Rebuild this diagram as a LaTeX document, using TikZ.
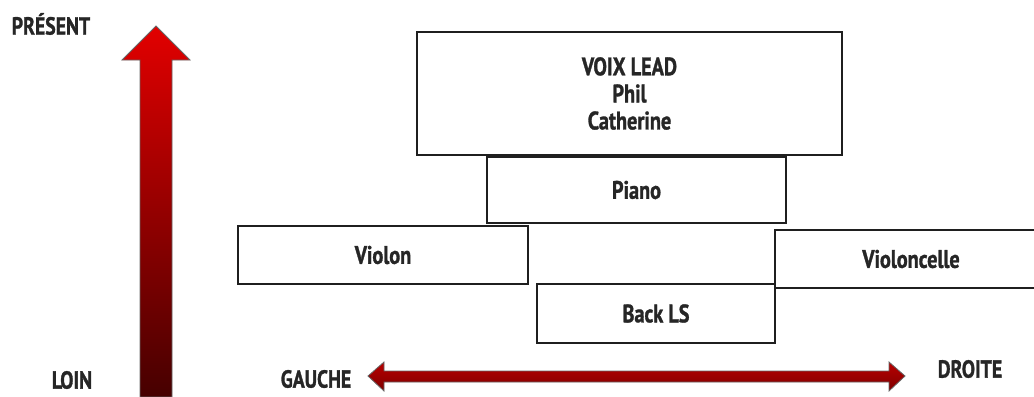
\documentclass[tikz,border=0pt]{standalone}
\usepackage{fontspec}
\setmainfont{PT Sans}[FakeStretch=0.8, BoldFeatures={FakeBold=1.2}]
\begin{document}
\begin{tikzpicture}[x=0.75pt,y=-0.75pt,
  box/.style={draw=black!88, line width=1.1pt, fill=white, inner sep=0pt, align=center,
    font=\bfseries\fontsize{19}{20.3}\selectfont, text=black!85},
  lbl/.style={font=\bfseries\fontsize{18.5}{20}\selectfont, text=black!85, inner sep=0pt},
  arr/.style={draw=black!60, line width=0.6pt}]
\useasboundingbox (0,0) rectangle (1034,396);
\begin{scope}
\clip (0,0) rectangle (1034,396);
% vertical arrow
\shade[arr, top color={rgb,255:red,226;green,0;blue,0}, bottom color={rgb,255:red,70;green,0;blue,0}]
  (140,397) -- (140,60) -- (122,60) -- (156,26) -- (190,60) -- (172,60) -- (172,397) -- cycle;
% horizontal double arrow
\shade[arr, top color={rgb,255:red,185;green,0;blue,0}, bottom color={rgb,255:red,125;green,0;blue,0}]
  (368,376) -- (384,362) -- (384,371) -- (889,371) -- (889,362) -- (905,376) -- (889,391) -- (889,382) -- (384,382) -- (384,391) -- cycle;
% boxes
\node[box, minimum width=318.75pt, minimum height=92.25pt] (lead) at (629.5,93.5) {VOIX LEAD\\Phil\\Catherine};
\node[box, minimum width=224.25pt, minimum height=49.5pt] (piano) at (636.5,190) {Piano};
\node[box, minimum width=217.5pt, minimum height=43.5pt] (violon) at (383,255) {Violon};
\node[box, minimum width=204pt, minimum height=43.5pt] (cello) at (911,259) {Violoncelle};
\node[box, minimum width=178.5pt, minimum height=44.25pt] (back) at (656,313.5) {Back LS};
\end{scope}
% labels
\node[lbl] (present) at (51,24) {PRÉSENT};
\node[lbl] (loin) at (72,380) {LOIN};
\node[lbl] (gauche) at (316,379) {GAUCHE};
\node[lbl] (droite) at (970,369) {DROITE};
\end{tikzpicture}
\end{document}
